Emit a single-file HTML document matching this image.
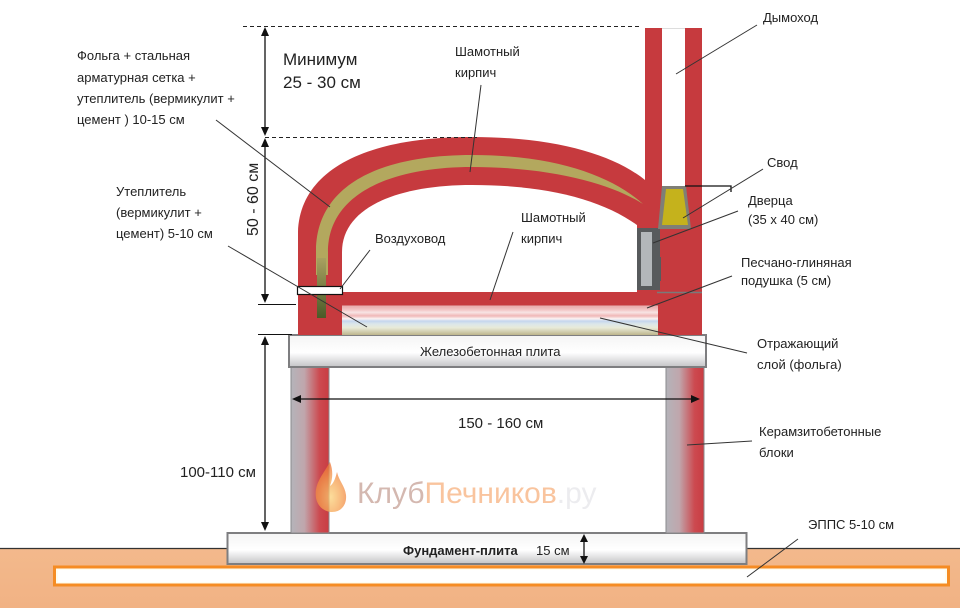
<!DOCTYPE html>
<html><head><meta charset="utf-8"><style>
html,body{margin:0;padding:0;background:#fff;}
svg{display:block;}
text{font-family:"Liberation Sans","DejaVu Sans",sans-serif;fill:#222;}
</style></head><body>
<svg width="960" height="608" viewBox="0 0 960 608" xmlns="http://www.w3.org/2000/svg">
<defs>
<linearGradient id="slab" x1="0" y1="0" x2="0" y2="1">
<stop offset="0" stop-color="#f4f4f4"/><stop offset="0.55" stop-color="#ffffff"/><stop offset="1" stop-color="#c4c4c6"/>
</linearGradient>
<linearGradient id="col" x1="0" y1="0" x2="1" y2="0">
<stop offset="0" stop-color="#b4b4ba"/><stop offset="0.35" stop-color="#c0a6ac"/><stop offset="0.75" stop-color="#cc4a50"/><stop offset="1" stop-color="#c93c42"/>
</linearGradient>
<linearGradient id="wallins" x1="0" y1="0" x2="0" y2="1">
<stop offset="0" stop-color="#a9a160"/><stop offset="1" stop-color="#4a5a28"/>
</linearGradient>
<linearGradient id="ground" x1="0" y1="0" x2="0" y2="1">
<stop offset="0" stop-color="#f3b98c"/><stop offset="1" stop-color="#f1b284"/>
</linearGradient>
<linearGradient id="layers" x1="0" y1="0" x2="0" y2="1">
<stop offset="0" stop-color="#e9a9a9"/>
<stop offset="0.14" stop-color="#f3c8c8"/>
<stop offset="0.22" stop-color="#f8e4e4"/>
<stop offset="0.34" stop-color="#f0b8b8"/>
<stop offset="0.44" stop-color="#fbf2f2"/>
<stop offset="0.52" stop-color="#c4d6ee"/>
<stop offset="0.62" stop-color="#dce6ea"/>
<stop offset="0.75" stop-color="#e8ead8"/>
<stop offset="1" stop-color="#bdb58c"/>
</linearGradient>
<radialGradient id="flame" cx="0.5" cy="0.7" r="0.6">
<stop offset="0" stop-color="#fbd27a"/><stop offset="0.6" stop-color="#f6a050"/><stop offset="1" stop-color="#ef7a3a"/>
</radialGradient>
</defs>

<!-- ground -->
<rect x="0" y="548" width="960" height="60" fill="url(#ground)"/>
<line x1="0" y1="548.5" x2="228" y2="548.5" stroke="#333" stroke-width="1.2"/>
<line x1="746" y1="548.5" x2="960" y2="548.5" stroke="#333" stroke-width="1.2"/>
<!-- EPPS -->
<rect x="54.5" y="567" width="894" height="18" fill="#fffdf0" stroke="#f58c24" stroke-width="3"/>
<rect x="58" y="570" width="887" height="12" fill="#ffffff"/>

<!-- foundation slab -->
<rect x="227.5" y="533" width="519" height="31" fill="url(#slab)" stroke="#7e7e80" stroke-width="2"/>
<!-- columns -->
<rect x="291" y="367" width="38" height="166" fill="url(#col)" stroke="#8a8a8c" stroke-width="1"/>
<rect x="666" y="367" width="38" height="166" fill="url(#col)" stroke="#8a8a8c" stroke-width="1"/>
<!-- concrete slab -->
<rect x="289" y="335" width="417" height="32" fill="url(#slab)" stroke="#7e7e80" stroke-width="2"/>

<!-- oven body -->
<path d="M298,335 L298,232 C300,170 365,137 472,137 C556,137 614,155 645,180 L645,28 L662,28 L662,186 L685,186 L685,28 L702,28 L702,335 Z" fill="#c63a3e"/>
<line x1="662" y1="28.5" x2="685" y2="28.5" stroke="#ddd" stroke-width="1"/>
<!-- cavity -->
<path d="M342,292 L342,252 C342,207 398,185 472,185 C548,185 602,200 637,225 L637,292 Z" fill="#fff"/>
<!-- insulation band in arch -->
<path d="M316,275 L316,250 C317,186 378,155 472,155 C556,155 612,176 643,204 C612,184 552,167 472,167 C390,167 328,194 328,252 L328,275 Z" fill="#b3a85e"/>
<rect x="317" y="258" width="9" height="60" fill="url(#wallins)"/>

<!-- layers under hearth -->
<rect x="342" y="306" width="316" height="29" fill="url(#layers)"/>
<line x1="342" y1="306" x2="658" y2="306" stroke="#e7b0b0" stroke-width="1"/>
<line x1="657" y1="292.5" x2="702" y2="292.5" stroke="#7a7a7a" stroke-width="1.5"/>

<!-- door -->
<rect x="637" y="228" width="23" height="62" fill="#575a5c"/>
<rect x="641" y="232" width="11" height="54" fill="#b3b7ba"/>
<rect x="655" y="257" width="6" height="24" fill="#575a5c"/>
<!-- svod keystone -->
<polygon points="662,186 686,186 691,229 658,229" fill="#7f7f76"/>
<polygon points="666,189 683,189 688,225 662,225" fill="#c5b21c"/>
<polyline points="685,186 731,186 731,192" fill="none" stroke="#111" stroke-width="1.3"/>

<!-- air duct -->
<rect x="297.5" y="286.5" width="45" height="8" fill="#fff" stroke="#111" stroke-width="1.2"/>

<!-- dashed lines -->
<line x1="243" y1="26.5" x2="640" y2="26.5" stroke="#222" stroke-width="1" stroke-dasharray="4,3"/>
<line x1="265" y1="137.5" x2="477" y2="137.5" stroke="#222" stroke-width="1" stroke-dasharray="4,3"/>

<!-- dims -->
<g stroke="#111" stroke-width="1.3" fill="#111">
<line x1="265" y1="30" x2="265" y2="133"/>
<polygon points="265,27 261,36 269,36" stroke="none"/>
<polygon points="265,136 261,127 269,127" stroke="none"/>
<line x1="265" y1="141" x2="265" y2="301"/>
<polygon points="265,138 261,147 269,147" stroke="none"/>
<polygon points="265,303 261,294 269,294" stroke="none"/>
<line x1="258" y1="304.5" x2="296" y2="304.5" stroke-width="1"/>
<line x1="258" y1="334.5" x2="292" y2="334.5" stroke-width="1"/>
<line x1="265" y1="339" x2="265" y2="528"/>
<polygon points="265,336 261,345 269,345" stroke="none"/>
<polygon points="265,531 261,522 269,522" stroke="none"/>
<line x1="296" y1="399" x2="696" y2="399"/>
<polygon points="292,399 301,395 301,403" stroke="none"/>
<polygon points="700,399 691,395 691,403" stroke="none"/>
<line x1="584" y1="537" x2="584" y2="561"/>
<polygon points="584,534 580,542 588,542" stroke="none"/>
<polygon points="584,564 580,556 588,556" stroke="none"/>
</g>

<!-- leader lines -->
<g stroke="#333" stroke-width="1">
<line x1="216" y1="120" x2="330" y2="207"/>
<line x1="481" y1="85" x2="470" y2="172"/>
<line x1="228" y1="246" x2="367" y2="327"/>
<line x1="370" y1="250" x2="340" y2="289"/>
<line x1="513" y1="232" x2="490" y2="300"/>
<line x1="757" y1="25" x2="676" y2="74"/>
<line x1="763" y1="169" x2="683" y2="218"/>
<line x1="738" y1="211" x2="653" y2="243"/>
<line x1="732" y1="276" x2="647" y2="308"/>
<line x1="747" y1="353" x2="600" y2="318"/>
<line x1="752" y1="441" x2="687" y2="445"/>
<line x1="798" y1="539" x2="747" y2="577"/>
</g>

<!-- watermark -->
<g opacity="0.75">
<path d="M330,462 C322,476 314,484 316,498 C318,508 326,512 332,512 C341,512 347,505 346,495 C345,486 339,481 337,472 C335,480 333,484 330,486 C333,478 333,470 330,462 Z" fill="url(#flame)"/>
<text x="357" y="503" font-size="30" style="fill:#c6a196">Клуб<tspan style="fill:#f7b17e">Печников</tspan><tspan style="fill:#e6e6ea">.ру</tspan></text>
</g>

<!-- labels -->
<g font-size="13">
<text x="77" y="60">Фольга + стальная</text>
<text x="77" y="82">арматурная  сетка  +</text>
<text x="77" y="103">утеплитель (вермикулит +</text>
<text x="77" y="124">цемент ) 10-15  см</text>
<text x="455" y="56">Шамотный</text>
<text x="455" y="77">кирпич</text>
<text x="116" y="196">Утеплитель</text>
<text x="116" y="217">(вермикулит +</text>
<text x="116" y="238">цемент) 5-10 см</text>
<text x="375" y="243">Воздуховод</text>
<text x="521" y="222">Шамотный</text>
<text x="521" y="243">кирпич</text>
<text x="763" y="22">Дымоход</text>
<text x="767" y="167">Свод</text>
<text x="748" y="205">Дверца</text>
<text x="748" y="224">(35 х 40  см)</text>
<text x="741" y="267">Песчано-глиняная</text>
<text x="741" y="285">подушка  (5 см)</text>
<text x="757" y="348">Отражающий</text>
<text x="757" y="369">слой (фольга)</text>
<text x="759" y="436">Керамзитобетонные</text>
<text x="759" y="457">блоки</text>
<text x="808" y="529">ЭППС 5-10  см</text>
<text x="420" y="356">Железобетонная плита</text>
<text x="403" y="555" font-weight="bold">Фундамент-плита</text>
<text x="536" y="555">15 см</text>
</g>
<text x="283" y="65" font-size="17">Минимум</text>
<text x="283" y="88" font-size="17">25 - 30 см</text>
<text x="458" y="428" font-size="15">150 - 160 см</text>
<text x="180" y="477" font-size="15">100-110 см</text>
<text x="0" y="0" font-size="16" transform="translate(258,236) rotate(-90)">50 - 60 см</text>
</svg>
</body></html>
